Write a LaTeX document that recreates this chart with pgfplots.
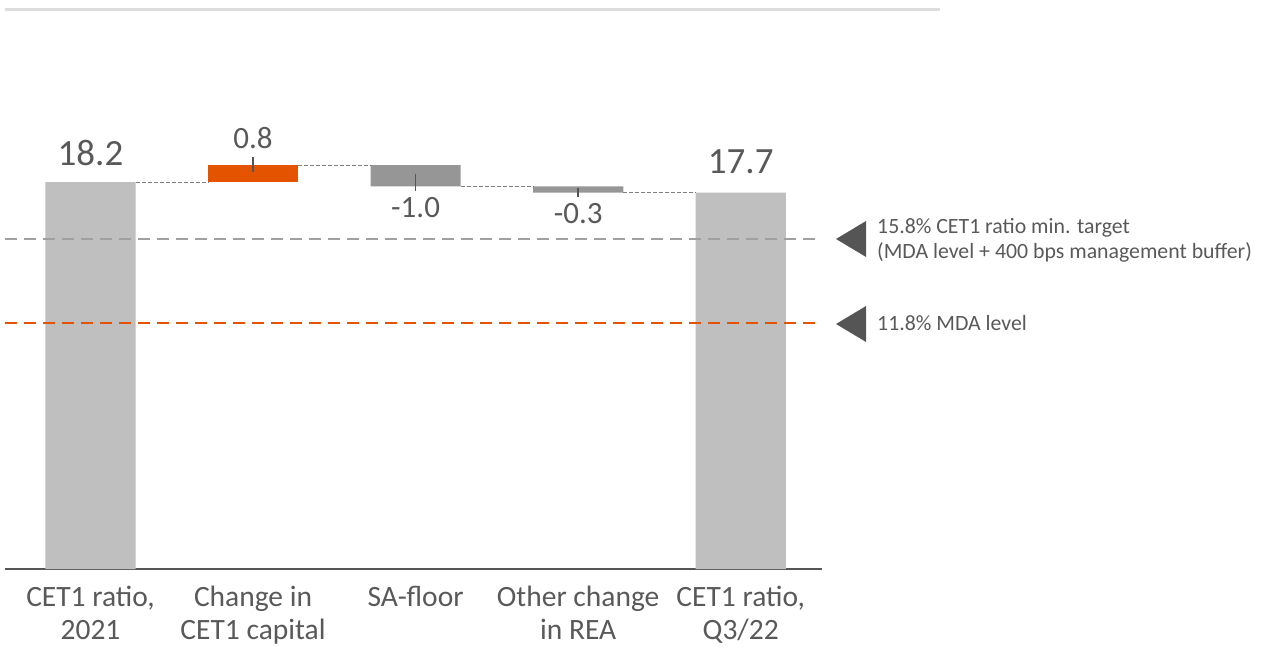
\documentclass[border=0pt]{standalone}
\usepackage{pgfplots}
\pgfplotsset{compat=1.18}
\usepackage{fontspec}
\setmainfont{Carlito}
\definecolor{txt}{HTML}{595959}
\definecolor{lightbar}{HTML}{BFBFBF}
\definecolor{darkbar}{HTML}{969696}
\definecolor{orng}{HTML}{E35300}
\definecolor{refgray}{HTML}{A0A0A0}
\definecolor{topline}{HTML}{DDDDDD}
\definecolor{axisc}{HTML}{555555}
\pgfplotsset{geom/.style={at={(5pt,77pt)}, anchor=south west,
  scale only axis, width=817pt, height=552.76pt,
  xmin=-0.526, xmax=4.5, ymin=0, ymax=26, clip=false}}
\begin{document}
\begin{tikzpicture}
\path[use as bounding box] (0,0) rectangle (1261pt,646pt);
\draw[topline, line width=3pt] (5pt,636pt) -- (940pt,636pt);
\begin{axis}[
  geom,
  ybar stacked, bar width=0.555,
  axis x line=bottom, axis y line=none,
  x axis line style={-, draw=axisc, line width=1.5pt},
  xtick={0,1,2,3,4},
  xticklabels={{CET1 ratio,\\2021},{Change in\\CET1 capital},{SA-floor},{Other change\\in REA},{CET1 ratio,\\Q3/22}},
  xticklabel style={font=\fontsize{29.5}{33}\selectfont, text=txt, align=center, inner sep=0pt, anchor=north, yshift=-17pt},
  major tick length=0pt,
]
\addplot[draw=none, fill=none] coordinates {(0,0) (1,18.2) (2,18.0) (3,17.7) (4,0)};
\addplot[draw=none, fill=lightbar] coordinates {(0,18.2) (1,0) (2,0) (3,0) (4,17.7)};
\addplot[draw=none, fill=orng] coordinates {(0,0) (1,0.8) (2,0) (3,0) (4,0)};
\addplot[draw=none, fill=darkbar] coordinates {(0,0) (1,0) (2,1.0) (3,0.3) (4,0)};
\end{axis}
\begin{axis}[geom, hide axis]
% reference lines
\addplot[refgray, line width=2pt, dash pattern=on 12pt off 7pt] coordinates {(-0.526,15.52) (4.49,15.52)};
\addplot[orng, line width=2pt, dash pattern=on 12pt off 7pt] coordinates {(-0.526,11.57) (4.49,11.57)};
% connectors
\addplot[gray, line width=0.8pt, dash pattern=on 4pt off 2pt] coordinates {(0.2775,18.2) (0.7225,18.2)};
\addplot[gray, line width=0.8pt, dash pattern=on 4pt off 2pt] coordinates {(1.2775,19.0) (1.7225,19.0)};
\addplot[gray, line width=0.8pt, dash pattern=on 4pt off 2pt] coordinates {(2.2775,18.0) (2.7225,18.0)};
\addplot[gray, line width=0.8pt, dash pattern=on 4pt off 2pt] coordinates {(3.2775,17.7) (3.7225,17.7)};
% small ticks
\addplot[axisc, line width=1.5pt] coordinates {(1,19.38) (1,18.67)};
\addplot[axisc, line width=1.5pt] coordinates {(2,18.58) (2,17.78)};
\addplot[axisc, line width=1.5pt] coordinates {(3,17.92) (3,17.50)};
% value labels
\node[text=txt, font=\fontsize{37}{40}\selectfont, inner sep=0pt] at (axis cs:0,19.57) {18.2};
\node[text=txt, font=\fontsize{31}{34}\selectfont, inner sep=0pt] at (axis cs:1,20.27) {0.8};
\node[text=txt, font=\fontsize{31}{34}\selectfont, inner sep=0pt] at (axis cs:2,16.98) {-1.0};
\node[text=txt, font=\fontsize{31}{34}\selectfont, inner sep=0pt] at (axis cs:3,16.70) {-0.3};
\node[text=txt, font=\fontsize{37}{40}\selectfont, inner sep=0pt] at (axis cs:4,19.14) {17.7};
\end{axis}
\fill[axisc] (836pt,407pt) -- (866pt,425pt) -- (866pt,389pt) -- cycle;
\fill[axisc] (836pt,322pt) -- (866pt,340pt) -- (866pt,304pt) -- cycle;
\node[anchor=west, align=left, text=txt, font=\fontsize{21.8}{25}\selectfont, inner sep=0pt] at (877pt,406pt) {15.8\% CET1 ratio min. target\\(MDA level + 400 bps management buffer)};
\node[anchor=west, text=txt, font=\fontsize{21.8}{25}\selectfont, inner sep=0pt] at (877pt,323pt) {11.8\% MDA level};
\end{tikzpicture}
\end{document}
